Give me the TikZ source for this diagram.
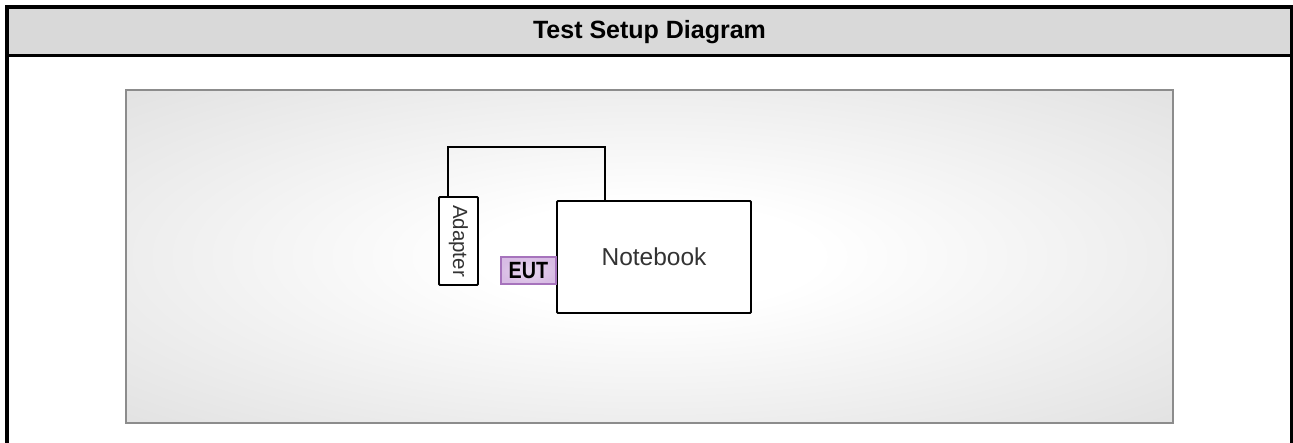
\documentclass[tikz,border=0pt]{standalone}
\usepackage{fontspec}
\setmainfont{Liberation Sans}
\definecolor{hdr}{HTML}{D9D9D9}
\definecolor{paneledge}{HTML}{D3D3D3}
\definecolor{panelcorner}{HTML}{CBCBCB}
\definecolor{panelborder}{HTML}{8C8C8C}
\definecolor{eutfill}{HTML}{D8BCE4}
\definecolor{eutedge}{HTML}{A673BC}
\definecolor{labtxt}{HTML}{333333}
\pgfdeclareradialshading{panelshade}{\pgfpoint{0bp}{0bp}}{%
  color(0bp)=(white); color(8bp)=(white); color(50bp)=(paneledge); color(72bp)=(panelcorner)}
\begin{document}
\begin{tikzpicture}[x=1pt,y=-1pt,
  devbox/.style={draw=black,line width=1.8pt,fill=white,rounded corners=1pt,inner sep=0pt},
  frameline/.style={line width=3.5pt,line cap=rect},
  cable/.style={line width=1.8pt,line join=miter}]
\useasboundingbox (0,0) rectangle (1293,442);
% header
\fill[hdr] (7,7) rectangle (1291.5,55.5);
\node (title) at (649.5,32) {\fontsize{25}{30}\selectfont\bfseries Test Setup Diagram};
\draw[frameline] (7,445) -- (7,7) -- (1291.5,7) -- (1291.5,445);
\draw[line width=3pt] (7,55.5) -- (1291.5,55.5);
% panel
\shade[shading=panelshade] (126,90) rectangle (1173,423);
\draw[panelborder,line width=1.6pt] (126,90) rectangle (1173,423);
% devices
\node[devbox,minimum width=39pt,minimum height=88pt] (adapter) at (458.5,241) {};
\node[rotate=-90,text=labtxt] (adaptertxt) at (adapter.center) {\fontsize{20.5}{24}\selectfont Adapter};
\node[devbox,minimum width=194pt,minimum height=112pt] (nb) at (654,257) {};
\node[text=labtxt] (nbtxt) at (nb.center) {\fontsize{24.5}{29}\selectfont Notebook};
\node[draw=eutedge,line width=1.2pt,inner color=white!40!eutfill,outer color=eutfill,
      minimum width=55pt,minimum height=27pt,inner sep=0pt,anchor=east] (eut) at (556.5,270.5)
      {\scalebox{0.84}[1]{\fontsize{23.5}{28}\selectfont\bfseries EUT}};
% cable
\coordinate (ca) at ([xshift=10pt]adapter.north west);
\coordinate (cn) at ([xshift=49pt]nb.north west);
\coordinate (ctop) at (0,147);
\draw[cable] (ca) -- (ca |- ctop) -| (cn);
\end{tikzpicture}
\end{document}
